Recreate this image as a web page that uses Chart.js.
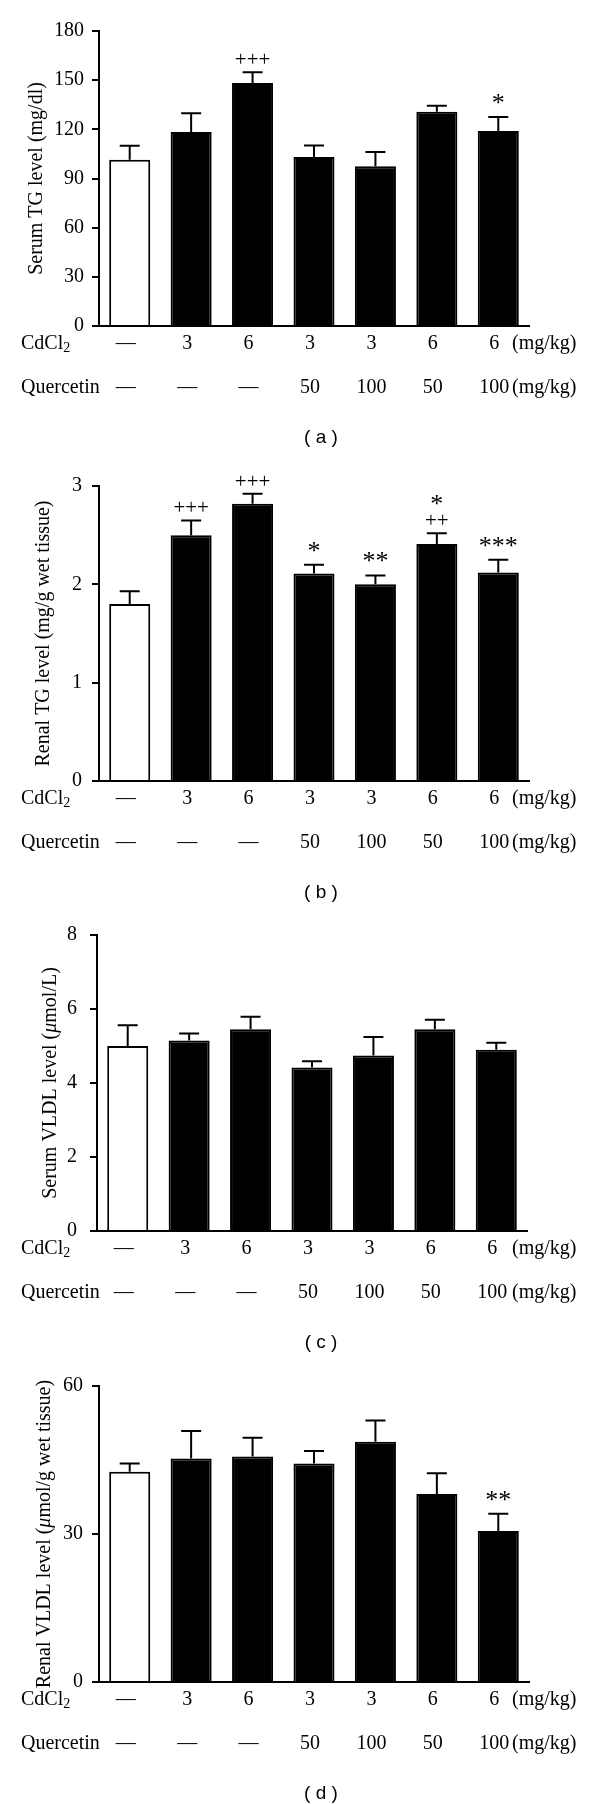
<!DOCTYPE html>
<html>
<head>
<meta charset="utf-8">
<script src="https://cdn.jsdelivr.net/npm/chart.js@4.4.1/dist/chart.umd.min.js"></script>
<style>
  html, body { margin: 0; padding: 0; background: #ffffff; }
  body { width: 600px; height: 1804px; position: relative; overflow: hidden; }
  canvas { position: absolute; left: 0; }
</style>
</head>
<body>
<canvas id="chartA" width="600" height="451" style="top:0px"></canvas>
<canvas id="chartB" width="600" height="451" style="top:451px"></canvas>
<canvas id="chartC" width="600" height="451" style="top:902px"></canvas>
<canvas id="chartD" width="600" height="451" style="top:1353px"></canvas>
<script>
// ---------- DATA ----------
const categories = ['Control', 'Cd 3', 'Cd 6', 'Cd 3 + Q 50', 'Cd 3 + Q 100', 'Cd 6 + Q 50', 'Cd 6 + Q 100'];
const cdcl2Doses = ['—', '3', '6', '3', '3', '6', '6'];
const quercetinDoses = ['—', '—', '—', '50', '100', '50', '100'];
const doseUnit = '(mg/kg)';

// (a) Serum TG (mg/dl)
const serumTG = [101.5, 118.4, 148.3, 103.1, 97.4, 130.8, 119.0];
const serumTGSem = [8.5, 11.4, 6.5, 7.1, 8.8, 3.6, 8.5];
const serumTGMarks = [[], [], ['+++'], [], [], [], ['*']];
const serumTGTicks = [0, 30, 60, 90, 120, 150, 180];

// (b) Renal TG (mg/g wet tissue)
const renalTG = [1.80, 2.50, 2.82, 2.11, 2.00, 2.41, 2.12];
const renalTGSem = [0.13, 0.15, 0.10, 0.09, 0.09, 0.11, 0.13];
const renalTGMarks = [[], ['+++'], ['+++'], ['*'], ['**'], ['++', '*'], ['***']];
const renalTGTicks = [0, 1, 2, 3];

// (c) Serum VLDL (µmol/L)
const serumVLDL = [5.00, 5.15, 5.45, 4.42, 4.74, 5.45, 4.90];
const serumVLDLSem = [0.56, 0.19, 0.34, 0.17, 0.50, 0.26, 0.19];
const serumVLDLMarks = [[], [], [], [], [], [], []];
const serumVLDLTicks = [0, 2, 4, 6, 8];

// (d) Renal VLDL (µmol/g wet tissue)
const renalVLDL = [42.6, 45.3, 45.7, 44.3, 48.7, 38.1, 30.6];
const renalVLDLSem = [1.7, 5.6, 3.8, 2.5, 4.3, 4.2, 3.5];
const renalVLDLMarks = [[], [], [], [], [], [], ['**']];
const renalVLDLTicks = [0, 30, 60];

// ---------- LAYOUT / STYLE ----------
const SERIF = '"Liberation Serif", "Times New Roman", serif';
const SANS = '"Liberation Sans", Arial, sans-serif';
const barColors = ['#ffffff', '#000000', '#000000', '#000000', '#000000', '#000000', '#000000'];

const panels = [
  { id: 'chartA', values: serumTG, sem: serumTGSem, marks: serumTGMarks, ticks: serumTGTicks,
    title: [{ t: 'Serum TG level (mg/dl)' }], label: '( a )',
    top: 31, zero: 326, left: 99, right: 529, titleX: 42, tickPad: 8 },
  { id: 'chartB', values: renalTG, sem: renalTGSem, marks: renalTGMarks, ticks: renalTGTicks,
    title: [{ t: 'Renal TG level (mg/g wet tissue)' }], label: '( b )',
    top: 35, zero: 330, left: 99, right: 529, titleX: 49, tickPad: 10 },
  { id: 'chartC', values: serumVLDL, sem: serumVLDLSem, marks: serumVLDLMarks, ticks: serumVLDLTicks,
    title: [{ t: 'Serum VLDL level (' }, { t: 'μ', i: true }, { t: 'mol/L)' }], label: '( c )',
    top: 33, zero: 329, left: 97, right: 527, titleX: 56, tickPad: 13 },
  { id: 'chartD', values: renalVLDL, sem: renalVLDLSem, marks: renalVLDLMarks, ticks: renalVLDLTicks,
    title: [{ t: 'Renal VLDL level (' }, { t: 'μ', i: true }, { t: 'mol/g wet tissue)' }], label: '( d )',
    top: 33, zero: 329, left: 99, right: 529, titleX: 50, tickPad: 9 }
];

function extrasPlugin(p) {
  return {
    id: 'extras_' + p.id,
    afterDatasetsDraw(chart) {
      const ctx = chart.ctx, xs = chart.scales.x, ys = chart.scales.y;
      ctx.save();
      ctx.strokeStyle = '#000';
      ctx.fillStyle = '#000';
      ctx.lineWidth = 2;
      p.values.forEach((v, i) => {
        const x = xs.getPixelForValue(i);
        const yb = ys.getPixelForValue(v);
        const yt = ys.getPixelForValue(v + p.sem[i]);
        ctx.beginPath();
        ctx.moveTo(x, yb); ctx.lineTo(x, yt);
        ctx.moveTo(x - 10, yt); ctx.lineTo(x + 10, yt);
        ctx.stroke();
        const lines = p.marks[i] || [];
        let gap0 = 0;
        lines.forEach((m, k) => {
          const star = m.indexOf('*') >= 0;
          if (k === 0) gap0 = star ? 18 : 12;
          const center = yt - gap0 - 21 * k;
          ctx.textAlign = 'center';
          ctx.textBaseline = 'alphabetic';
          if (star) {
            ctx.font = '26px ' + SERIF;
            ctx.fillText(m, x, center + 12);
          } else {
            ctx.font = '21px ' + SERIF;
            ctx.fillText(m, x, center + 6);
          }
        });
      });
      ctx.restore();
    },
    afterDraw(chart) {
      const ctx = chart.ctx, xs = chart.scales.x, ys = chart.scales.y;
      const Z = ys.getPixelForValue(0);
      ctx.save();
      ctx.fillStyle = '#000';
      ctx.textBaseline = 'alphabetic';
      // dose rows
      ctx.font = '20px ' + SERIF;
      ctx.textAlign = 'center';
      categories.forEach((c, i) => {
        const x = xs.getPixelForValue(i) - 4;
        ctx.fillText(cdcl2Doses[i], x, Z + 23);
        ctx.fillText(quercetinDoses[i], x, Z + 67);
      });
      ctx.textAlign = 'left';
      ctx.fillText('CdCl', 21, Z + 23);
      const wCd = ctx.measureText('CdCl').width;
      ctx.fillText('Quercetin', 21, Z + 67);
      ctx.fillText(doseUnit, 512, Z + 23);
      ctx.fillText(doseUnit, 512, Z + 67);
      ctx.font = '14px ' + SERIF;
      ctx.fillText('2', 21 + wCd, Z + 26);

      // y axis title (rotated)
      const cy = (chart.chartArea.top + chart.chartArea.bottom) / 2;
      const parts = p.title.map(pt => {
        ctx.font = (pt.i ? 'italic ' : '') + '20px ' + SERIF;
        return { t: pt.t, f: ctx.font, w: ctx.measureText(pt.t).width };
      });
      const total = parts.reduce((s, q) => s + q.w, 0);
      ctx.translate(p.titleX, cy);
      ctx.rotate(-Math.PI / 2);
      let xx = -total / 2;
      parts.forEach(q => {
        ctx.font = q.f;
        ctx.fillText(q.t, xx, 0);
        xx += q.w;
      });
      ctx.setTransform(1, 0, 0, 1, 0, 0);

      // panel label
      ctx.font = '19px ' + SANS;
      ctx.textAlign = 'center';
      ctx.textBaseline = 'middle';
      ctx.fillText(p.label, 321, Z + 112);
      ctx.restore();
    }
  };
}

panels.forEach(p => {
  const el = document.getElementById(p.id);
  const H = el.height;
  const maxV = p.ticks[p.ticks.length - 1];
  const step = p.ticks[1] - p.ticks[0];
  new Chart(el.getContext('2d'), {
    type: 'bar',
    data: {
      labels: categories,
      datasets: [{
        data: p.values,
        backgroundColor: barColors,
        borderColor: '#000000',
        borderWidth: 2,
        borderSkipped: 'start',
        barPercentage: 0.668,
        categoryPercentage: 1.0
      }]
    },
    options: {
      responsive: false,
      animation: false,
      devicePixelRatio: 1,
      layout: { padding: { top: p.top, right: 600 - p.right, left: 0, bottom: 0 } },
      plugins: { legend: { display: false }, tooltip: { enabled: false } },
      scales: {
        x: {
          offset: true,
          z: 1,
          ticks: { display: false },
          grid: { display: false },
          border: { display: true, color: '#000', width: 2 },
          afterFit(scale) { scale.height = H - p.zero; }
        },
        y: {
          min: 0,
          max: maxV,
          afterFit(scale) { scale.width = p.left; },
          afterBuildTicks(scale) { scale.ticks = p.ticks.map(v => ({ value: v })); },
          ticks: {
            stepSize: step,
            autoSkip: false,
            color: '#000',
            padding: p.tickPad,
            font: { family: SERIF, size: 20 }
          },
          grid: { drawOnChartArea: false, drawTicks: true, tickLength: 7, color: '#000', lineWidth: 2 },
          border: { display: true, color: '#000', width: 2 }
        }
      }
    },
    plugins: [extrasPlugin(p)]
  });
});
</script>
</body>
</html>
